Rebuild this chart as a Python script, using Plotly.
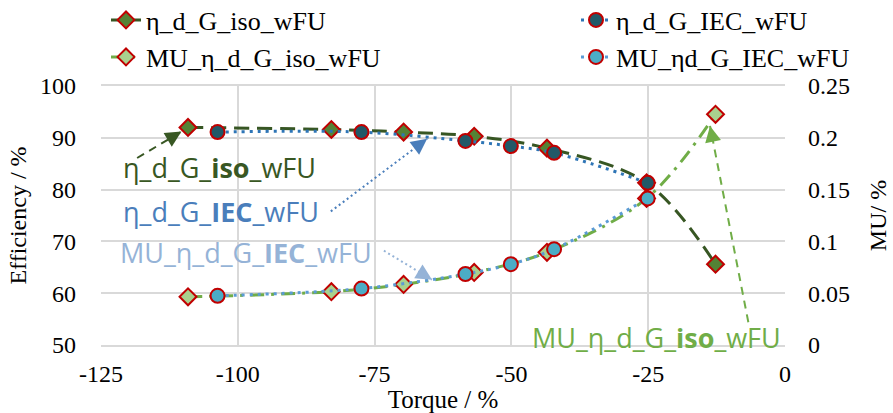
import math
import plotly.graph_objects as go

# ---------------- data ----------------
torque_iso = [-109.1, -82.9, -69.7, -56.8, -43.5, -25.3, -12.7]
eff_iso = [92.0, 91.6, 91.1, 90.3, 88.0, 81.3, 65.6]
mu_iso = [0.0465, 0.0515, 0.0585, 0.070, 0.0895, 0.1415, 0.2227]

torque_iec = [-103.7, -77.4, -58.4, -50.1, -42.2, -25.1]
eff_iec = [91.1, 91.1, 89.4, 88.4, 87.1, 81.3]
mu_iec = [0.0475, 0.0545, 0.0685, 0.078, 0.0925, 0.1415]

x_tickvals = [-125, -100, -75, -50, -25, 0]
x_ticktext = ["-125", "-100", "-75", "-50", "-25", "0"]

names = ["η_d_G_iso_wFU", "η_d_G_IEC_wFU", "MU_η_d_G_iso_wFU", "MU_ηd_G_IEC_wFU"]

# ---------------- layout constants ----------------
W, H = 893, 413
ML, MR, MT, MB = 101, 108, 86, 68
PW, PH = W - ML - MR, H - MT - MB
XR = [-125, 0]
YR = [50, 100]
ppx = PW / (XR[1] - XR[0])
ppy = PH / (YR[1] - YR[0])

RED = "#C00000"
SERIF = "Liberation Serif"
SANS = "Open Sans"

fig = go.Figure()

fig.add_trace(go.Scatter(
    x=torque_iso, y=eff_iso, name=names[0], mode="lines+markers",
    line=dict(color="#375623", width=3, dash="15px,8px", shape="spline"),
    marker=dict(symbol="diamond", size=13, color="#548235", line=dict(color=RED, width=2)),
    legend="legend", showlegend=True))
fig.add_trace(go.Scatter(
    x=torque_iec, y=eff_iec, name=names[1], mode="lines+markers",
    line=dict(color="#2E75B6", width=3, dash="3px,5px", shape="spline"),
    marker=dict(symbol="circle", size=14, color="#215968", line=dict(color=RED, width=2)),
    legend="legend2", showlegend=True))
fig.add_trace(go.Scatter(
    x=torque_iso, y=mu_iso, name=names[2], mode="lines+markers", yaxis="y2",
    line=dict(color="#70AD47", width=3, dash="14px,7px,3px,7px", shape="spline"),
    marker=dict(symbol="diamond", size=13, color="#A9D18E", line=dict(color=RED, width=2)),
    legend="legend3", showlegend=True))
fig.add_trace(go.Scatter(
    x=torque_iec, y=mu_iec, name=names[3], mode="lines+markers", yaxis="y2",
    line=dict(color="#5B9BD5", width=3, dash="3px,5px", shape="spline"),
    marker=dict(symbol="circle", size=14, color="#4BACC6", line=dict(color=RED, width=2)),
    legend="legend4", showlegend=True))

# ---------------- callouts ----------------
callouts = [
    # text, text x, text y, tail(x,y), tip(x,y), colour, dash
    ("η_d_G_<b>iso</b>_wFU", -103.3, 84.2, (-118.4, 86.1), (-110.3, 91.2), "#385723", "8px,6px"),
    ("η_d_G_<b>IEC</b>_wFU", -103.1, 75.7, (-83.0, 75.8), (-65.4, 89.8), "#4A7EBB", "2px,3px"),
    ("MU_η_d_G_<b>IEC</b>_wFU", -98.5, 67.8, (-73.3, 68.2), (-64.5, 62.6), "#95B3D7", "2px,3px"),
    ("MU_η_d_G_<b>iso</b>_wFU", -23.4, 51.4, (-6.7, 54.4), (-13.7, 92.3), "#70AD47", "8px,6px"),
]
for txt, tx, ty, tail, tip, col, dash in callouts:
    fig.add_annotation(x=tx, y=ty, xref="x", yref="y", text=txt, showarrow=False,
                       font=dict(family=SANS, size=27, color=col))
    fig.add_shape(type="line", xref="x", yref="y", x0=tail[0], y0=tail[1],
                  x1=tip[0], y1=tip[1], line=dict(color=col, width=2, dash=dash))
    dxp = (tail[0] - tip[0]) * ppx
    dyp = -(tail[1] - tip[1]) * ppy
    n = math.hypot(dxp, dyp)
    L = 12
    fig.add_annotation(x=tip[0], y=tip[1], xref="x", yref="y", text="", showarrow=True,
                       ax=dxp / n * L, ay=dyp / n * L, arrowhead=2, arrowsize=1.6,
                       arrowwidth=2, arrowcolor=col)

GRID = "#D9D9D9"
row1 = 1 + (MT - 20) / PH
row2 = 1 + (MT - 57) / PH
col1 = (106 - ML) / PW
col2 = (576 - ML) / PW
leg = lambda x, y: dict(x=x, y=y, xanchor="left", yanchor="middle",
                        font=dict(family=SERIF, size=26), bgcolor="rgba(0,0,0,0)")

fig.update_layout(
    width=W, height=H,
    showlegend=True,
    margin=dict(l=ML, r=MR, t=MT, b=MB, autoexpand=False),
    paper_bgcolor="white", plot_bgcolor="white",
    font=dict(family=SERIF, size=23, color="black"),
    xaxis=dict(range=XR, tickvals=x_tickvals, ticktext=x_ticktext,
               tickfont=dict(size=24),
               showgrid=True, gridcolor=GRID, gridwidth=1.5, zeroline=False,
               showline=True, linecolor=GRID, linewidth=1.5, mirror=True,
               ticks="", ticklabelstandoff=6,
               title=dict(text="Torque / %", standoff=10, font=dict(size=25))),
    yaxis=dict(range=YR, dtick=10, showgrid=True, gridcolor=GRID, gridwidth=1.5,
               tickfont=dict(size=24),
               zeroline=False, ticks="", ticklabelstandoff=24,
               title=dict(text="Efficiency / %", standoff=6, font=dict(size=24))),
    yaxis2=dict(range=[0, 0.25], dtick=0.05, overlaying="y", side="right",
                tickfont=dict(size=24),
                showgrid=False, zeroline=False, ticks="", ticklabelstandoff=22,
                title=dict(text="MU/ %", standoff=20, font=dict(size=24))),
    legend=leg(col1, row1),
    legend2=leg(col2, row1),
    legend3=leg(col1, row2),
    legend4=leg(col2, row2),
)

fig.write_html("out.html")
